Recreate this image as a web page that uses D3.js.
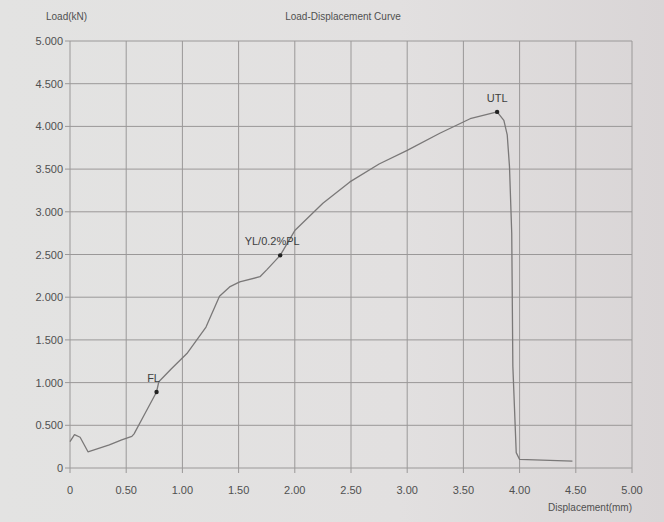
<!DOCTYPE html>
<html>
  <head>
    <meta charset="UTF-8">
    <title>Load-Displacement Curve</title>
    <script src="https://d3js.org/d3.v7.min.js" charset="utf-8"></script>
    <style>
      body { margin: 0; background: #e0dfdf; }
      svg { display: block; font-family: "Liberation Sans", Arial, sans-serif; }
    </style>
  </head>
  <body>
    <script>
        var w = 664;
        var h = 522;

        // displacement (mm) and load (kN)
        var displacement = [0.00, 0.04, 0.09, 0.16, 0.35, 0.46, 0.55, 0.57, 0.66, 0.77, 0.79, 0.90,
            1.04, 1.21, 1.33, 1.42, 1.51, 1.69, 1.75, 1.87, 2.00, 2.25, 2.49, 2.75, 3.00,
            3.29, 3.56, 3.80, 3.86, 3.89, 3.91, 3.93, 3.94, 3.97, 4.00, 4.47];
        var load = [0.31, 0.39, 0.36, 0.19, 0.27, 0.33, 0.37, 0.40, 0.62, 0.89, 1.01, 1.16,
            1.34, 1.65, 2.01, 2.12, 2.18, 2.24, 2.32, 2.49, 2.78, 3.10, 3.35, 3.56, 3.72,
            3.92, 4.09, 4.17, 4.07, 3.90, 3.53, 2.75, 1.19, 0.18, 0.10, 0.08];

        var markerNames = ["FL", "YL/0.2%PL", "UTL"];
        var markerX = [0.77, 1.87, 3.80];
        var markerY = [0.89, 2.49, 4.17];

        var xTicks = [0, 0.5, 1, 1.5, 2, 2.5, 3, 3.5, 4, 4.5, 5];
        var xTickLabels = ["0", "0.50", "1.00", "1.50", "2.00", "2.50", "3.00", "3.50", "4.00", "4.50", "5.00"];
        var yTicks = [0, 0.5, 1, 1.5, 2, 2.5, 3, 3.5, 4, 4.5, 5];
        var yTickLabels = ["0", "0.500", "1.000", "1.500", "2.000", "2.500", "3.000", "3.500", "4.000", "4.500", "5.000"];

        var svg = d3.select("body").append("svg")
            .attr("width", w)
            .attr("height", h);

        // photo-like paper background
        var grad = svg.append("defs").append("linearGradient")
            .attr("id", "paper").attr("x1", "0").attr("x2", "1").attr("y1", "0").attr("y2", "0");
        grad.append("stop").attr("offset", "0").attr("stop-color", "#e3e3e2");
        grad.append("stop").attr("offset", "0.6").attr("stop-color", "#e2e0e0");
        grad.append("stop").attr("offset", "1").attr("stop-color", "#d9d5d6");
        svg.append("rect").attr("width", w).attr("height", h).attr("fill", "url(#paper)");

        var x = d3.scaleLinear().domain([0, 5]).range([70, 632]);
        var y = d3.scaleLinear().domain([0, 5]).range([468, 41]);

        //grid
        svg.append("g").selectAll("line")
            .data(xTicks)
            .enter().append("line")
            .attr("x1", function(d){ return x(d); })
            .attr("x2", function(d){ return x(d); })
            .attr("y1", y(5))
            .attr("y2", y(0) + 5)
            .attr("stroke", "#9a9898")
            .attr("stroke-width", 1);

        svg.append("g").selectAll("line")
            .data(yTicks)
            .enter().append("line")
            .attr("x1", x(0) - 5)
            .attr("x2", x(5))
            .attr("y1", function(d){ return y(d); })
            .attr("y2", function(d){ return y(d); })
            .attr("stroke", "#9a9898")
            .attr("stroke-width", 1);

        //tick labels
        svg.append("g").selectAll("text")
            .data(xTicks)
            .enter().append("text")
            .text(function(d, i){ return xTickLabels[i]; })
            .attr("x", function(d){ return x(d); })
            .attr("y", 494)
            .attr("text-anchor", "middle")
            .attr("font-size", "11px")
            .attr("fill", "#505050");

        svg.append("g").selectAll("text")
            .data(yTicks)
            .enter().append("text")
            .text(function(d, i){ return yTickLabels[i]; })
            .attr("x", 63)
            .attr("y", function(d){ return y(d) + 4; })
            .attr("text-anchor", "end")
            .attr("font-size", "11px")
            .attr("fill", "#505050");

        //titles
        svg.append("text").text("Load(kN)")
            .attr("x", 46).attr("y", 20)
            .attr("font-size", "10px").attr("fill", "#505050");
        svg.append("text").text("Load-Displacement Curve")
            .attr("x", 343).attr("y", 20)
            .attr("text-anchor", "middle")
            .attr("font-size", "10px").attr("fill", "#505050");
        svg.append("text").text("Displacement(mm)")
            .attr("x", 632).attr("y", 511)
            .attr("text-anchor", "end")
            .attr("font-size", "10px").attr("fill", "#505050");

        //curve
        var line = d3.line()
            .x(function(d){ return x(d); })
            .y(function(d, i){ return y(load[i]); });

        svg.append("path")
            .datum(displacement)
            .attr("d", line)
            .attr("fill", "none")
            .attr("stroke", "#7a7878")
            .attr("stroke-width", 1.3)
            .attr("stroke-linejoin", "round");

        //markers
        svg.append("g").selectAll("circle")
            .data(markerX)
            .enter().append("circle")
            .attr("cx", function(d){ return x(d); })
            .attr("cy", function(d, i){ return y(markerY[i]); })
            .attr("r", 2.2)
            .attr("fill", "#222");

        var labelShift = [-3, -8, 0];
        svg.append("g").selectAll("text")
            .data(markerX)
            .enter().append("text")
            .text(function(d, i){ return markerNames[i]; })
            .attr("x", function(d, i){ return x(d) + labelShift[i]; })
            .attr("y", function(d, i){ return y(markerY[i]) - 10; })
            .attr("text-anchor", "middle")
            .attr("font-size", "11px")
            .attr("fill", "#404040");
    </script>
  </body>
</html>
